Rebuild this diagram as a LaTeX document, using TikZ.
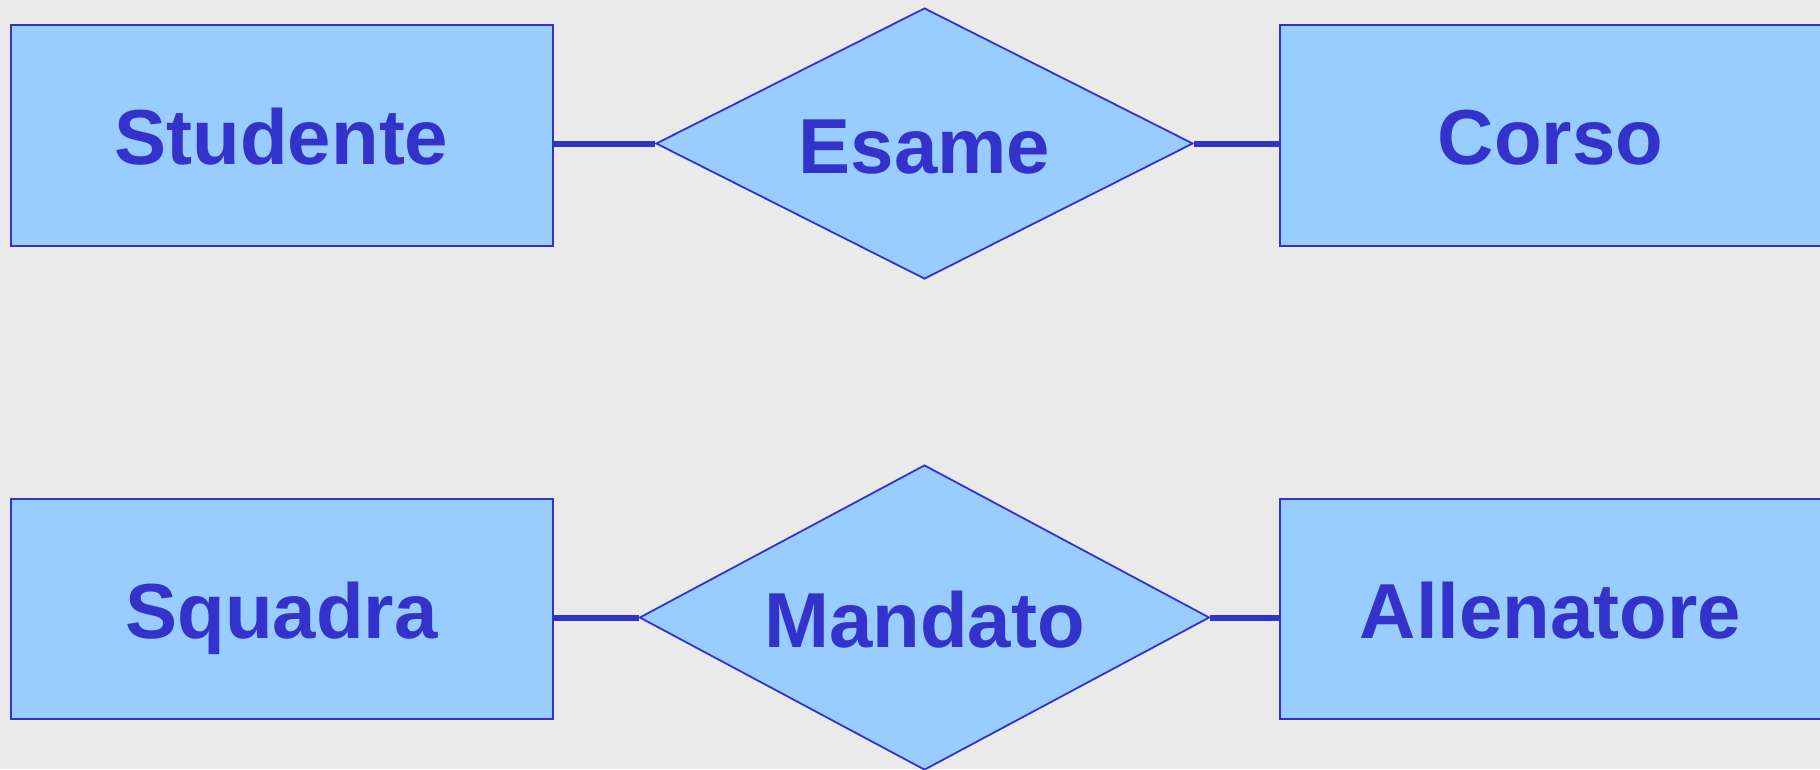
\documentclass[tikz,border=0pt]{standalone}
\usepackage{fontspec}
\setmainfont{Liberation Sans}
\usetikzlibrary{shapes.geometric}
\definecolor{bgc}{HTML}{EAEAEA}
\definecolor{fillc}{HTML}{99CCFF}
\definecolor{linec}{HTML}{3333CC}
\tikzset{
  lbl/.style={font=\fontsize{78}{90}\selectfont\bfseries, text=linec, inner sep=0pt, text height=59.8pt, text depth=0pt},
  entity/.style={lbl, draw=linec, fill=fillc, line width=2pt, rectangle, minimum width=542pt, minimum height=221pt},
  relation/.style={lbl, draw=linec, fill=fillc, line width=1.8pt, diamond, aspect=2},
  link/.style={draw=linec, line width=6pt}
}
\begin{document}
\begin{tikzpicture}[x=1pt,y=-1pt]
\fill[bgc] (0,0) rectangle (1820,769);
\useasboundingbox (0,0) rectangle (1820,769);
\node[entity] (stud) at (281.5,135) {Studente};
\node[entity] (corso) at (1550.5,135) {Corso};
\node[relation, minimum width=537pt, minimum height=271pt] (esame) at (924.5,143.5) {Esame};
\node[entity, minimum height=220pt] (squadra) at (281.5,609) {Squadra};
\node[entity, minimum height=220pt] (allen) at (1550.5,609) {Allenatore};
\node[relation, minimum width=570pt, minimum height=305pt] (mandato) at (924.5,617.5) {Mandato};
\draw[link] (esame.west) -- (esame.west -| stud.east);
\draw[link] (esame.east) -- (esame.east -| corso.west);
\draw[link] (mandato.west) -- (mandato.west -| squadra.east);
\draw[link] (mandato.east) -- (mandato.east -| allen.west);
\end{tikzpicture}
\end{document}
